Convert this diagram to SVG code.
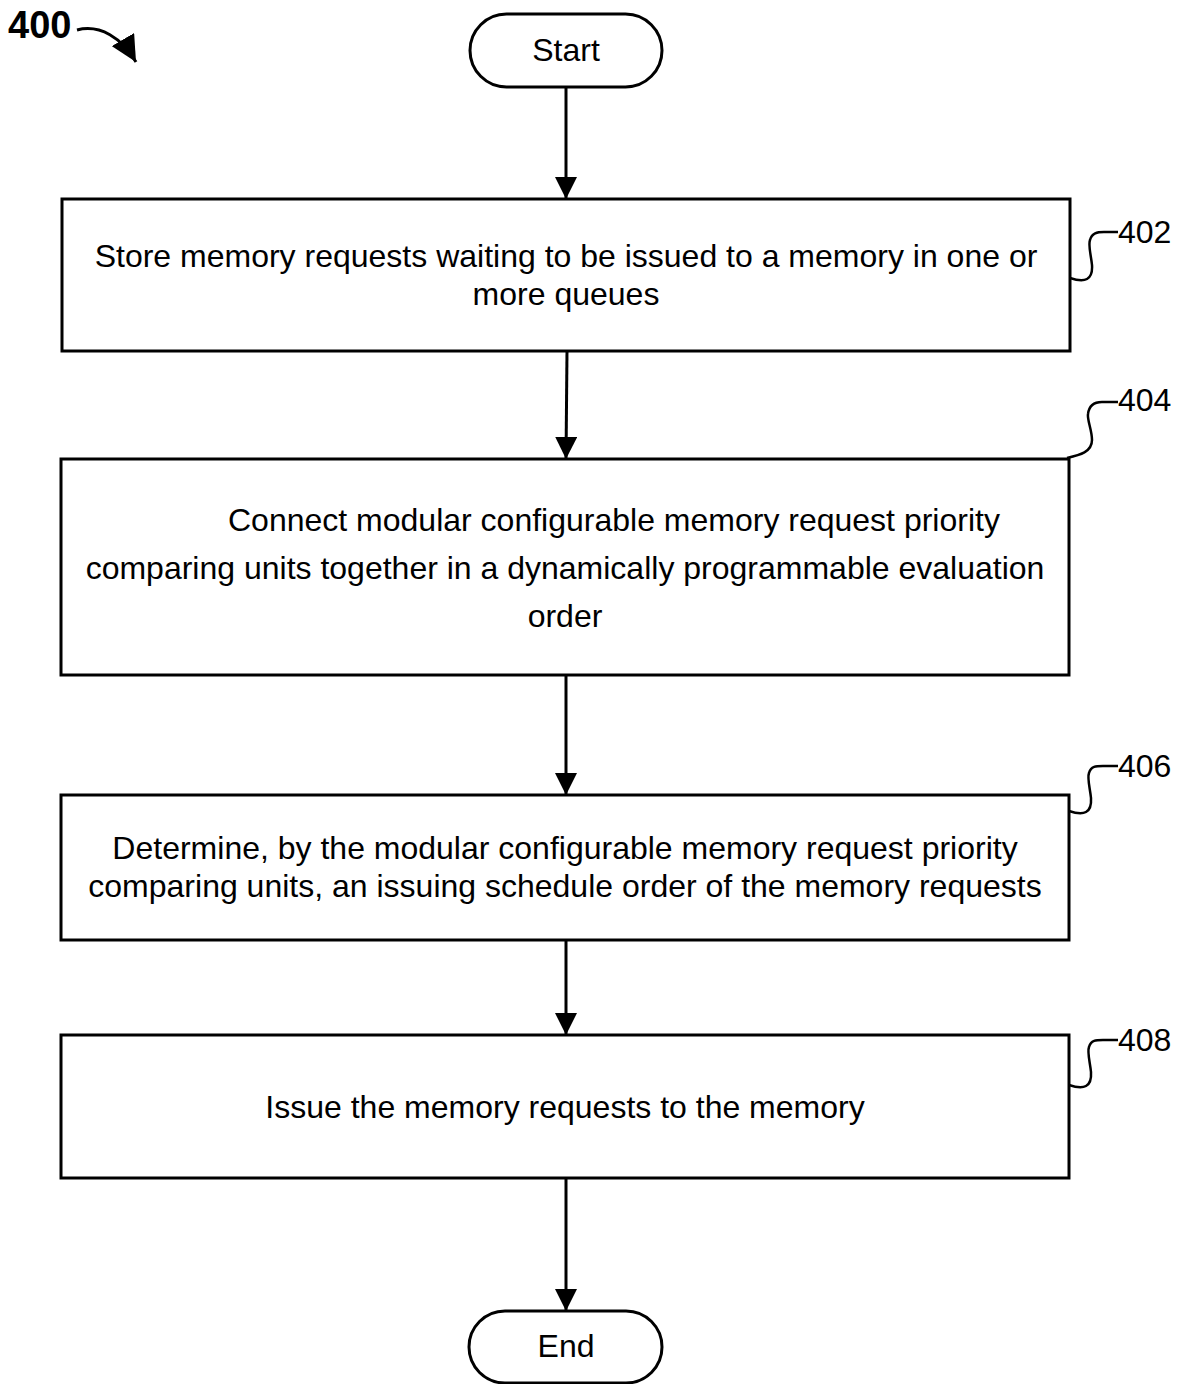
<svg xmlns="http://www.w3.org/2000/svg" width="1178" height="1384" viewBox="0 0 1178 1384">
<style>
.box{fill:#fff;stroke:#000;stroke-width:3}
.t{font-family:"Liberation Sans",Arial,sans-serif;font-size:32px;fill:#000;text-anchor:middle}
.ref{font-family:"Liberation Sans",Arial,sans-serif;font-size:32px;fill:#000}
.line{stroke:#000;stroke-width:3;fill:none}
.sq{stroke:#000;stroke-width:2.5;fill:none}
</style>
<defs>
<marker id="ah2" viewBox="0 0 10 10" refX="10" refY="5" markerWidth="22" markerHeight="22" markerUnits="userSpaceOnUse" orient="auto">
<path d="M0,0 L10,5 L0,10 z" fill="#000"/>
</marker>
<marker id="ah3" viewBox="0 0 10 10" refX="10" refY="5" markerWidth="26" markerHeight="26" markerUnits="userSpaceOnUse" orient="auto">
<path d="M0,0 L10,5 L0,10 z" fill="#000"/>
</marker>
</defs>
<g id="label400">
<text x="8" y="38" style="font-family:'Liberation Sans',Arial,sans-serif;font-size:38px;font-weight:bold">400</text>
<path d="M77,30 C100,24 122,38 136,62" class="line" marker-end="url(#ah3)"/>
</g>
<g id="connectors">
<line x1="566" y1="87" x2="566" y2="199" class="line" marker-end="url(#ah2)"/>
<line x1="567" y1="351" x2="566" y2="459" class="line" marker-end="url(#ah2)"/>
<line x1="566" y1="675" x2="566" y2="795" class="line" marker-end="url(#ah2)"/>
<line x1="566" y1="940" x2="566" y2="1035" class="line" marker-end="url(#ah2)"/>
<line x1="566" y1="1178" x2="566" y2="1311" class="line" marker-end="url(#ah2)"/>
</g>
<g id="start">
<rect x="470" y="14" width="192" height="73" rx="36.5" class="box"/>
<text x="566" y="61" class="t">Start</text>
</g>
<g id="n402">
<rect x="62" y="199" width="1008" height="152" class="box"/>
<text x="566" y="267" class="t">Store memory requests waiting to be issued to a memory in one or</text>
<text x="566" y="305" class="t">more queues</text>
<path d="M1070,278 C1085,283 1093,280 1092,265 C1091,255 1088,245 1090,240 C1092,233 1097,232 1104,232 L1118,232" class="sq"/>
<text x="1118" y="243" class="ref">402</text>
</g>
<g id="n404">
<rect x="61" y="459" width="1008" height="216" class="box"/>
<text x="228" y="531" class="ref">Connect modular configurable memory request priority</text>
<text x="565" y="579" class="t">comparing units together in a dynamically programmable evaluation</text>
<text x="565" y="627" class="t">order</text>
<path d="M1067,458 C1080,455 1092,452 1092,440 C1092,430 1087,420 1088,414 C1089,406 1094,402 1102,402 L1118,402" class="sq"/>
<text x="1118" y="411" class="ref">404</text>
</g>
<g id="n406">
<rect x="61" y="795" width="1008" height="145" class="box"/>
<text x="565" y="859" class="t">Determine, by the modular configurable memory request priority</text>
<text x="565" y="897" class="t">comparing units, an issuing schedule order of the memory requests</text>
<path d="M1069,811 C1084,816 1092,813 1091,798 C1090,788 1087,778 1089,773 C1091,766 1096,766 1103,766 L1118,766" class="sq"/>
<text x="1118" y="777" class="ref">406</text>
</g>
<g id="n408">
<rect x="61" y="1035" width="1008" height="143" class="box"/>
<text x="565" y="1118" class="t">Issue the memory requests to the memory</text>
<path d="M1069,1085 C1084,1090 1092,1087 1091,1072 C1090,1062 1087,1052 1089,1047 C1091,1040 1096,1040 1103,1040 L1118,1040" class="sq"/>
<text x="1118" y="1051" class="ref">408</text>
</g>
<g id="end">
<rect x="469" y="1311" width="193" height="72" rx="36" class="box"/>
<text x="566" y="1357" class="t">End</text>
</g>
</svg>
